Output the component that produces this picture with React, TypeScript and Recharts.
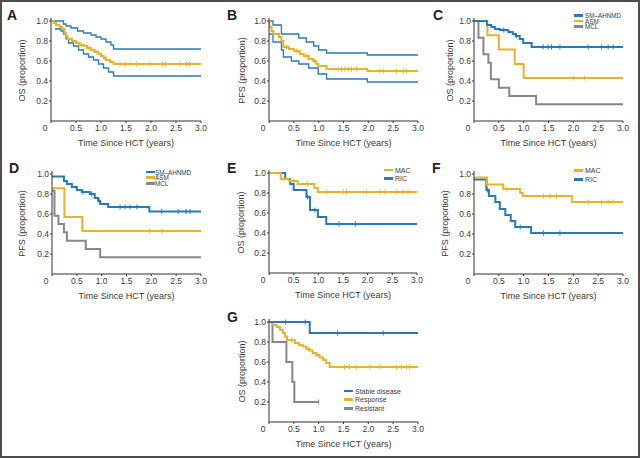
import React from 'react';
import { LineChart, Line, XAxis, YAxis } from 'recharts';

type Pt = [number, number];

const X_TICKS = [0, 0.5, 1, 1.5, 2, 2.5, 3];
const Y_TICKS = [0.2, 0.4, 0.6, 0.8, 1.0];

const BLUE = '#2a79b6';
const YELLOW = '#e6b42c';
const GRAY = '#878787';
const TEXT = '#3a3a3a';
const FONT = '"Liberation Sans", Arial, Helvetica, sans-serif';

// Panel A: OS with 95% CI
const A_EST: Pt[] = [[0, 1], [0.05, 0.98], [0.1, 0.96], [0.17, 0.94], [0.22, 0.92], [0.27, 0.88], [0.3, 0.85], [0.33, 0.82], [0.42, 0.8], [0.5, 0.78], [0.57, 0.76], [0.65, 0.75], [0.72, 0.73], [0.8, 0.71], [0.87, 0.69], [0.95, 0.67], [1.0, 0.65], [1.05, 0.63], [1.1, 0.61], [1.18, 0.59], [1.25, 0.57]];
const A_EST_CENS = [0.6, 0.76, 0.92, 1.08, 1.38, 1.48, 1.58, 1.71, 1.98, 2.23, 2.29, 2.58, 2.71, 2.77];
const A_UP: Pt[] = [[0, 1], [0.25, 0.97], [0.3, 0.95], [0.4, 0.93], [0.53, 0.9], [0.65, 0.88], [0.8, 0.86], [0.9, 0.84], [1.0, 0.82], [1.1, 0.79], [1.2, 0.76], [1.25, 0.72]];
const A_LO: Pt[] = [[0.08, 0.92], [0.2, 0.9], [0.25, 0.87], [0.3, 0.82], [0.35, 0.78], [0.45, 0.75], [0.55, 0.71], [0.65, 0.67], [0.75, 0.64], [0.85, 0.61], [0.95, 0.57], [1.05, 0.53], [1.15, 0.49], [1.25, 0.45]];

// Panel B: PFS with 95% CI
const B_EST: Pt[] = [[0, 1], [0.01, 0.94], [0.05, 0.9], [0.09, 0.87], [0.2, 0.84], [0.25, 0.8], [0.29, 0.74], [0.4, 0.72], [0.5, 0.7], [0.62, 0.67], [0.7, 0.65], [0.8, 0.62], [0.89, 0.6], [0.95, 0.57], [0.99, 0.55], [1.16, 0.52], [1.98, 0.5]];
const B_EST_CENS = [0.35, 0.55, 0.75, 0.92, 1.39, 1.46, 1.53, 1.6, 1.66, 1.76, 2.23, 2.3, 2.57, 2.7, 2.77];
const B_UP: Pt[] = [[0, 1], [0.08, 0.96], [0.25, 0.87], [0.6, 0.83], [0.75, 0.79], [0.9, 0.75], [1.0, 0.71], [1.16, 0.68], [1.98, 0.66]];
const B_LO: Pt[] = [[0, 0.87], [0.08, 0.79], [0.25, 0.71], [0.29, 0.64], [0.45, 0.6], [0.6, 0.57], [0.8, 0.53], [0.99, 0.47], [1.16, 0.42], [1.98, 0.39]];

// Panel C: OS by disease
const C_SM: Pt[] = [[0, 1], [0.26, 0.96], [0.35, 0.94], [0.42, 0.92], [0.52, 0.91], [0.69, 0.89], [0.78, 0.87], [0.84, 0.85], [0.92, 0.82], [0.99, 0.78], [1.16, 0.74]];
const C_SM_CENS = [0.6, 0.86, 1.39, 1.49, 1.56, 1.73, 2.3, 2.57, 2.7, 2.8];
const C_ASM: Pt[] = [[0, 1], [0.27, 0.857], [0.5, 0.714], [0.82, 0.571], [1.0, 0.429]];
const C_ASM_CENS = [2.0, 2.23];
const C_MCL: Pt[] = [[0, 1], [0.09, 0.833], [0.19, 0.667], [0.29, 0.583], [0.34, 0.417], [0.5, 0.333], [0.71, 0.25], [1.25, 0.167]];

// Panel D: PFS by disease
const D_SM: Pt[] = [[0, 0.975], [0.24, 0.93], [0.3, 0.9], [0.4, 0.87], [0.5, 0.84], [0.6, 0.82], [0.76, 0.8], [0.86, 0.76], [0.93, 0.73], [0.97, 0.7], [1.13, 0.67], [1.96, 0.625]];
const D_SM_CENS = [0.62, 0.8, 0.95, 1.37, 1.47, 1.57, 1.71, 2.21, 2.54, 2.7, 2.78];
const D_ASM: Pt[] = [[0, 0.857], [0.25, 0.571], [0.61, 0.429]];
const D_ASM_CENS = [1.96, 2.21];
const D_MCL: Pt[] = [[0, 0.833], [0.05, 0.583], [0.13, 0.5], [0.24, 0.417], [0.3, 0.333], [0.68, 0.25], [0.97, 0.167]];

// Panel E: OS by conditioning
const E_MAC: Pt[] = [[0, 1], [0.24, 0.94], [0.41, 0.92], [0.58, 0.89], [0.92, 0.85], [0.99, 0.81]];
const E_MAC_CENS = [0.3, 0.5, 0.78, 1.17, 1.5, 1.57, 1.98, 2.25, 2.35, 2.59, 2.72, 2.82];
const E_RIC: Pt[] = [[0, 1], [0.33, 0.94], [0.43, 0.89], [0.5, 0.83], [0.76, 0.76], [0.83, 0.63], [0.99, 0.56], [1.16, 0.49]];
const E_RIC_CENS = [0.78, 0.93, 1.42, 1.75];

// Panel F: PFS by conditioning
const F_MAC: Pt[] = [[0, 0.965], [0.26, 0.895], [0.59, 0.85], [0.93, 0.81], [0.98, 0.78], [1.97, 0.72]];
const F_MAC_CENS = [0.66, 1.4, 1.53, 1.66, 2.3, 2.57, 2.7, 2.8];
const F_RIC: Pt[] = [[0, 0.945], [0.25, 0.84], [0.3, 0.78], [0.43, 0.72], [0.52, 0.65], [0.63, 0.59], [0.74, 0.53], [0.83, 0.47], [1.15, 0.41]];
const F_RIC_CENS = [0.27, 0.93, 1.4, 1.73];

// Panel G: OS by disease status
const G_SD: Pt[] = [[0, 1], [0.82, 0.89]];
const G_SD_CENS = [0.33, 0.73, 1.38, 2.3];
const G_RESP: Pt[] = [[0, 1], [0.08, 0.97], [0.15, 0.95], [0.22, 0.92], [0.28, 0.89], [0.32, 0.855], [0.36, 0.82], [0.52, 0.79], [0.6, 0.77], [0.68, 0.755], [0.75, 0.73], [0.82, 0.715], [0.88, 0.69], [0.95, 0.67], [1.02, 0.645], [1.09, 0.62], [1.15, 0.59], [1.22, 0.55]];
const G_RESP_CENS = [0.45, 0.8, 0.97, 1.52, 1.62, 1.76, 2.03, 2.23, 2.57, 2.66, 2.77, 2.83];
const G_RES: Pt[] = [[0, 1], [0.07, 0.8], [0.35, 0.6], [0.47, 0.4], [0.51, 0.2]];
const G_RES_CENS = [1.0];

type Datum = { t: number; s: number; cens: boolean };

function buildCurve(steps: Pt[], censors: number[], end: number): Datum[] {
  const valueAt = (t: number) => {
    let s = steps[0][1];
    for (const [tt, ss] of steps) if (tt <= t) s = ss;
    return s;
  };
  const pts: Datum[] = steps.map(([t, s]) => ({ t, s, cens: false }));
  for (const c of censors) pts.push({ t: c, s: valueAt(c), cens: true });
  const maxT = Math.max(...pts.map((p) => p.t));
  if (end > maxT) pts.push({ t: end, s: valueAt(end), cens: false });
  pts.sort((a, b) => a.t - b.t);
  return pts;
}

type Curve = { id: string; data: Datum[]; color: string; w: number };

const XTick = (props: any) => {
  const { x, y, payload } = props;
  const v = payload.value as number;
  return (
    <text x={x + (v === 0 ? -6 : 0)} y={y} dy="0.75em" textAnchor="middle" fontSize={8.5} fill={TEXT} fontFamily={FONT}>
      {v === 0 ? '0' : v.toFixed(1)}
    </text>
  );
};

const YTick = (props: any) => {
  const { x, y, payload } = props;
  return (
    <text x={x} y={y} dy="0.36em" textAnchor="end" fontSize={8.5} fill={TEXT} fontFamily={FONT}>
      {(payload.value as number).toFixed(1)}
    </text>
  );
};

function Panel(props: { x0: number; y1: number; pw: number; yTitle: string; titleOff: number; curves: Curve[] }) {
  const { x0, y1, pw, yTitle, titleOff, curves } = props;
  const W = 50 + pw + 10;
  return (
    <div style={{ position: 'absolute', left: x0 - 50, top: y1 - 8 }}>
      <LineChart width={W} height={150} margin={{ top: 5, right: 10, left: 0, bottom: 0 }}>
        <XAxis
          type="number"
          dataKey="t"
          domain={[0, 3]}
          ticks={X_TICKS}
          interval={0}
          allowDataOverflow
          height={42}
          tickSize={2}
          tickMargin={2}
          tick={XTick}
          axisLine={{ stroke: '#333', strokeWidth: 1 }}
          tickLine={{ stroke: '#333' }}
          label={{
            content: (lp: any) => {
              const vb = lp.viewBox || {};
              return (
                <text x={vb.x + vb.width / 2} y={vb.y + 22} dy="0.36em" textAnchor="middle" fontSize={9} fill={TEXT} fontFamily={FONT}>
                  Time Since HCT (years)
                </text>
              );
            },
          }}
        />
        <YAxis
          type="number"
          dataKey="s"
          domain={[0, 1.03]}
          ticks={Y_TICKS}
          interval={0}
          allowDataOverflow
          width={50}
          tickSize={2}
          tickMargin={1}
          tick={YTick}
          axisLine={{ stroke: '#333', strokeWidth: 1 }}
          tickLine={{ stroke: '#333' }}
          label={{
            content: (lp: any) => {
              const vb = lp.viewBox || {};
              const cx = vb.x + vb.width - titleOff;
              const cy = vb.y + vb.height / 2 + 1;
              return (
                <text x={cx} y={cy} dy="0.36em" textAnchor="middle" fontSize={9} fill={TEXT} fontFamily={FONT} transform={`rotate(-90 ${cx} ${cy})`}>
                  {yTitle}
                </text>
              );
            },
          }}
        />
        {curves.map((c) => (
          <Line
            key={c.id}
            data={c.data}
            dataKey="s"
            type="stepAfter"
            stroke={c.color}
            strokeWidth={c.w}
            activeDot={false}
            isAnimationActive={false}
            dot={(dp: any) => {
              const k = `${c.id}-${dp.index}`;
              if (!dp.payload || !dp.payload.cens) return <g key={k} />;
              return <line key={k} x1={dp.cx} x2={dp.cx} y1={dp.cy - 2.5} y2={dp.cy + 2.5} stroke={c.color} strokeWidth={1} />;
            }}
          />
        ))}
      </LineChart>
    </div>
  );
}

function PanelLetter(props: { x: number; y: number; ch: string }) {
  return (
    <div style={{ position: 'absolute', left: props.x, top: props.y, fontSize: 14, lineHeight: '14px', fontWeight: 700, fontFamily: FONT, color: '#222' }}>
      {props.ch}
    </div>
  );
}

function LegendBox(props: { lineX: number; textX: number; fs: number; rows: { y: number; label: string; color: string }[] }) {
  return (
    <>
      {props.rows.map((r) => (
        <React.Fragment key={r.label}>
          <div style={{ position: 'absolute', left: props.lineX, top: r.y - 1.25, width: 9, height: 2.5, background: r.color }} />
          <div style={{ position: 'absolute', left: props.textX, top: r.y - 4.5, fontSize: props.fs, lineHeight: '9px', fontFamily: FONT, color: TEXT, whiteSpace: 'nowrap' }}>
            {r.label}
          </div>
        </React.Fragment>
      ))}
    </>
  );
}

export default function App() {
  const aCurves: Curve[] = [
    { id: 'up', data: buildCurve(A_UP, [], 3), color: BLUE, w: 1.3 },
    { id: 'lo', data: buildCurve(A_LO, [], 3), color: BLUE, w: 1.3 },
    { id: 'est', data: buildCurve(A_EST, A_EST_CENS, 3), color: YELLOW, w: 2 },
  ];
  const bCurves: Curve[] = [
    { id: 'up', data: buildCurve(B_UP, [], 3), color: BLUE, w: 1.3 },
    { id: 'lo', data: buildCurve(B_LO, [], 3), color: BLUE, w: 1.3 },
    { id: 'est', data: buildCurve(B_EST, B_EST_CENS, 3), color: YELLOW, w: 2 },
  ];
  const cCurves: Curve[] = [
    { id: 'mcl', data: buildCurve(C_MCL, [], 3), color: GRAY, w: 2 },
    { id: 'asm', data: buildCurve(C_ASM, C_ASM_CENS, 3), color: YELLOW, w: 2 },
    { id: 'sm', data: buildCurve(C_SM, C_SM_CENS, 3), color: BLUE, w: 2 },
  ];
  const dCurves: Curve[] = [
    { id: 'mcl', data: buildCurve(D_MCL, [], 3), color: GRAY, w: 2 },
    { id: 'asm', data: buildCurve(D_ASM, D_ASM_CENS, 3), color: YELLOW, w: 2 },
    { id: 'sm', data: buildCurve(D_SM, D_SM_CENS, 3), color: BLUE, w: 2 },
  ];
  const eCurves: Curve[] = [
    { id: 'ric', data: buildCurve(E_RIC, E_RIC_CENS, 3), color: BLUE, w: 2 },
    { id: 'mac', data: buildCurve(E_MAC, E_MAC_CENS, 3), color: YELLOW, w: 2 },
  ];
  const fCurves: Curve[] = [
    { id: 'ric', data: buildCurve(F_RIC, F_RIC_CENS, 3), color: BLUE, w: 2 },
    { id: 'mac', data: buildCurve(F_MAC, F_MAC_CENS, 3), color: YELLOW, w: 2 },
  ];
  const gCurves: Curve[] = [
    { id: 'res', data: buildCurve(G_RES, G_RES_CENS, 1.0), color: GRAY, w: 2 },
    { id: 'resp', data: buildCurve(G_RESP, G_RESP_CENS, 3), color: YELLOW, w: 2 },
    { id: 'sd', data: buildCurve(G_SD, G_SD_CENS, 3), color: BLUE, w: 2 },
  ];

  return (
    <div style={{ position: 'absolute', left: 0, top: 0, width: 640, height: 458, background: '#fff', overflow: 'hidden', fontFamily: FONT }}>
      <Panel x0={51} y1={21} pw={150} yTitle="OS (proportion)" titleOff={29} curves={aCurves} />
      <Panel x0={269} y1={21} pw={149} yTitle="PFS (proportion)" titleOff={27} curves={bCurves} />
      <Panel x0={474} y1={21} pw={149} yTitle="OS (proportion)" titleOff={24} curves={cCurves} />
      <Panel x0={52} y1={174} pw={149} yTitle="PFS (proportion)" titleOff={30} curves={dCurves} />
      <Panel x0={269} y1={173} pw={148} yTitle="OS (proportion)" titleOff={28} curves={eCurves} />
      <Panel x0={474} y1={174} pw={149} yTitle="PFS (proportion)" titleOff={29} curves={fCurves} />
      <Panel x0={269} y1={322} pw={149} yTitle="OS (proportion)" titleOff={27} curves={gCurves} />

      <PanelLetter x={7} y={8} ch="A" />
      <PanelLetter x={227} y={8} ch="B" />
      <PanelLetter x={433} y={8} ch="C" />
      <PanelLetter x={9} y={161} ch="D" />
      <PanelLetter x={227} y={161} ch="E" />
      <PanelLetter x={432} y={161} ch="F" />
      <PanelLetter x={227} y={310} ch="G" />

      <LegendBox lineX={574} textX={585} fs={6.3} rows={[
        { y: 15.7, label: 'SM–AHNMD', color: BLUE },
        { y: 21.2, label: 'ASM', color: YELLOW },
        { y: 26.7, label: 'MCL', color: GRAY },
      ]} />
      <LegendBox lineX={146} textX={155} fs={6.3} rows={[
        { y: 172, label: 'SM–AHNMD', color: BLUE },
        { y: 177.7, label: 'ASM', color: YELLOW },
        { y: 183.3, label: 'MCL', color: GRAY },
      ]} />
      <LegendBox lineX={384} textX={395} fs={7} rows={[
        { y: 170, label: 'MAC', color: YELLOW },
        { y: 178.7, label: 'RIC', color: BLUE },
      ]} />
      <LegendBox lineX={574} textX={585} fs={7} rows={[
        { y: 170.7, label: 'MAC', color: YELLOW },
        { y: 179.3, label: 'RIC', color: BLUE },
      ]} />
      <LegendBox lineX={344} textX={355} fs={7} rows={[
        { y: 391, label: 'Stable disease', color: BLUE },
        { y: 399.3, label: 'Response', color: YELLOW },
        { y: 408.3, label: 'Resistant', color: GRAY },
      ]} />

      <div style={{ position: 'absolute', left: 0, top: 0, width: 640, height: 458, boxSizing: 'border-box', border: '2px solid #4d4d4d', pointerEvents: 'none' }} />
    </div>
  );
}
